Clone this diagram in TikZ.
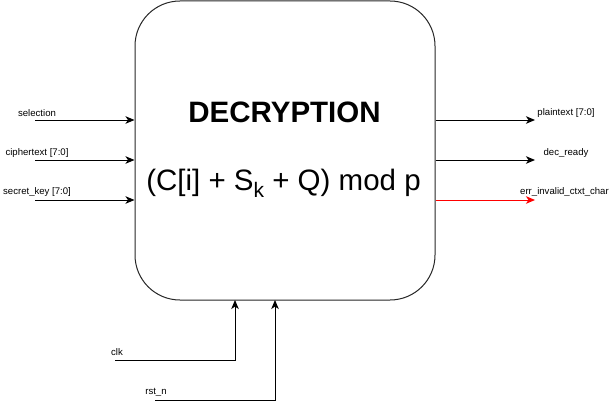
\documentclass[tikz,border=0pt]{standalone}
\usepackage{fontspec}
\setmainfont{Liberation Sans}
\usetikzlibrary{arrows.meta}
\begin{document}
\begin{tikzpicture}[x=1pt,y=-1pt,
  sig/.style={line width=1pt,-{Stealth[length=9pt,width=7.5pt,inset=2.5pt]}},
  lbl/.style={inner sep=0pt,font=\fontsize{9.6}{11}\selectfont},
  blk/.style={draw=black!85,line width=1pt,rounded corners=45pt,minimum width=300pt,minimum height=299pt,inner sep=0pt}]
\useasboundingbox (0,0) rectangle (612,409);
\clip (0,0) rectangle (612,409);
% main block
\node[blk] (dec) at (285,150.5) {};
\node[inner sep=0pt,font=\fontsize{29.5}{34}\selectfont\bfseries] (title) at (284.5,112) {DECRYPTION};
\node[inner sep=0pt,anchor=base,font=\fontsize{29.5}{34}\selectfont] (eq) at (283.5,190) {(C[i] + S\raisebox{-7pt}{\fontsize{21}{24}\selectfont k} + Q) mod p};
% inputs
\coordinate (sel) at (35,120);
\coordinate (ct) at (35,160);
\coordinate (sk) at (35,200);
\node[lbl] (lsel) at (37,113) {selection};
\node[lbl] (lct) at (37,153) {ciphertext [7:0]};
\node[lbl] (lsk) at (37,192) {secret\_key [7:0]};
\draw[sig] (sel) -- (dec.west |- sel);
\draw[sig] (ct) -- (dec.west |- ct);
\draw[sig] (sk) -- (dec.west |- sk);
% outputs
\coordinate (pt) at (535,120);
\coordinate (dr) at (535,160);
\coordinate (er) at (535,200);
\node[lbl] (lpt) at (566,113) {plaintext [7:0]};
\node[lbl] (ldr) at (566,153) {dec\_ready};
\node[lbl,anchor=west] (ler) at (520,192) {err\_invalid\_ctxt\_char};
\draw[sig] (dec.east |- pt) -- (pt);
\draw[sig] (dec.east |- dr) -- (dr);
\draw[sig,red] (dec.east |- er) -- (er);
% clock / reset
\coordinate (clk) at (115,360);
\coordinate (rst) at (155,400);
\coordinate (clkin) at (235,300);
\coordinate (rstin) at (275,300);
\node[lbl] (lclk) at (117,352) {clk};
\node[lbl] (lrst) at (156,392) {rst\_n};
\draw[sig] (clk) -| (clkin);
\draw[sig] (rst) -| (rstin);
\end{tikzpicture}
\end{document}
